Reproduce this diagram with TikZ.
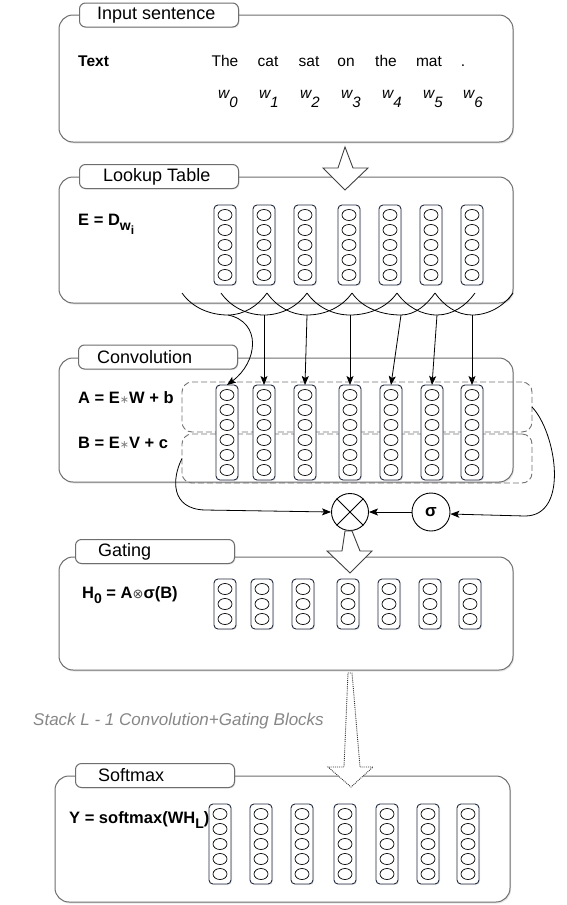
\documentclass[tikz,border=0pt]{standalone}
\usepackage{fontspec}
\setmainfont{Liberation Sans}
\newfontfamily\symf{DejaVu Sans}
\usetikzlibrary{arrows.meta,shadows}
\definecolor{frame}{RGB}{110,110,110}
\definecolor{stackc}{RGB}{35,42,65}
\definecolor{dashc}{RGB}{115,115,115}
\definecolor{notec}{RGB}{135,135,135}

% a column of n units: #1 name, #2 x centre, #3 top y, #4 number of units
\newcommand\vecstack[4]{%
  \pgfmathsetmacro\stackh{15*#4+5}%
  \node[stackbox, minimum height=\stackh pt, anchor=north] (#1) at (#2,#3) {};
  \foreach \k in {1,...,#4}
    \draw[unit] (#2,#3+15*\k-5) ellipse [x radius=7pt, y radius=5.5pt];
}

\begin{document}
\begin{tikzpicture}[x=1pt,y=-1pt,
  panel/.style={draw=frame, line width=1pt, rounded corners=14pt, fill=white,
    drop shadow={opacity=0.2, shadow xshift=1pt, shadow yshift=-1.5pt},
    inner sep=0pt, outer sep=0pt},
  tab/.style={draw=frame, line width=1pt, rounded corners=6pt, fill=white,
    minimum width=159pt, inner xsep=0pt, inner ysep=0pt, minimum height=24pt,
    font=\fontsize{18}{20}\selectfont,
    drop shadow={opacity=0.18, shadow xshift=1pt, shadow yshift=-1pt}},
  tabtext/.style={font=\fontsize{18}{20}\selectfont, inner sep=0pt, anchor=west},
  stackbox/.style={draw=stackc, line width=0.9pt, rounded corners=4pt, fill=white,
    minimum width=22pt, inner sep=0pt, outer sep=0pt,
    drop shadow={opacity=0.18, shadow xshift=1pt, shadow yshift=-1pt}},
  unit/.style={draw=black, line width=0.7pt},
  dbox/.style={draw=dashc, line width=0.9pt, dash pattern=on 6pt off 3pt,
    rounded corners=10pt, inner sep=0pt, outer sep=0pt},
  eq/.style={font=\bfseries\fontsize{16.5}{18}\selectfont, inner sep=0pt},
  word/.style={font=\fontsize{15.5}{17}\selectfont, inner sep=0pt},
  arr/.style={draw=black, line width=0.8pt, -{Stealth[length=9pt,width=7pt,inset=2pt]}},
  fan/.style={draw=black, line width=0.8pt},
  blockarrow/.style={draw=black!75, line width=0.9pt, fill=white, line join=miter},
  op/.style={circle, draw=black, line width=0.9pt, fill=white, inner sep=0pt}
]
\fill[white] (0,0) rectangle (567,905);
\useasboundingbox (0,0) rectangle (567,905);

% ---------- panels ----------
\node[panel, minimum width=454pt, minimum height=127pt, anchor=north west] (inpanel) at (59,15) {};
\node[panel, minimum width=454pt, minimum height=126pt, anchor=north west] (lkpanel) at (59,177) {};
\node[panel, minimum width=454pt, minimum height=124pt, anchor=north west] (cvpanel) at (59,358) {};
\node[panel, minimum width=454pt, minimum height=113pt, anchor=north west] (gtpanel) at (59,557) {};
\node[panel, minimum width=455pt, minimum height=126pt, anchor=north west] (smpanel) at (55,776) {};

% title tabs with their captions
\node[tab, anchor=west] (intab) at (79,15) {};
\node[tabtext] (intitle) at (97,15) {Input sentence};
\node[tab, anchor=west] (lktab) at (79,176.5) {};
\node[tabtext] (lktitle) at (103,176.5) {Lookup Table};
\node[tab, anchor=west] (cvtab) at (78,357) {};
\node[tabtext] (cvtitle) at (97,357) {Convolution};
\node[tab, anchor=west] (gttab) at (75,551.5) {};
\node[tabtext] (gttitle) at (98,551.5) {Gating};
\node[tab, anchor=west] (smtab) at (75,775.5) {};
\node[tabtext] (smtitle) at (98,775.5) {Softmax};

% ---------- input sentence ----------
\node[word, font=\bfseries\fontsize{15.5}{17}\selectfont, anchor=base west] (txtlabel) at (78,66) {Text};
\node[word, anchor=base] (tok0) at (225,66) {The};
\node[word, anchor=base] (tok1) at (268,66) {cat};
\node[word, anchor=base] (tok2) at (309,66) {sat};
\node[word, anchor=base] (tok3) at (346,66) {on};
\node[word, anchor=base] (tok4) at (386,66) {the};
\node[word, anchor=base] (tok5) at (429,66) {mat};
\node[word, anchor=base] (tok6) at (463,66) {.};
\foreach \x [count=\i from 0] in {218,259,300,341,382,423,463}
  \node[word, anchor=base west] (w\i) at (\x,98)
    {\itshape w\raisebox{-9pt}{\fontsize{15}{15}\selectfont\itshape \i}};

% ---------- lookup table ----------
\node[eq, anchor=base west] (eqE) at (78,225)
  {E = D\raisebox{-5pt}{\fontsize{14}{14}\selectfont w\raisebox{-4pt}{\fontsize{12}{12}\selectfont i}}};
\foreach \x [count=\i] in {225,264,305,349,390,431,472}
  {\vecstack{lk\i}{\x}{205}{5}}

% ---------- convolution ----------
\node[dbox, minimum width=350pt, minimum height=50pt, anchor=north west] (abox) at (182,382) {};
\node[dbox, minimum width=350pt, minimum height=49pt, anchor=north west] (bbox) at (182,434) {};
\node[eq, anchor=base west] (eqA) at (78,403)
  {A = E{\symf\mdseries\fontsize{11}{11}\selectfont\color{gray}∗}W + b};
\node[eq, anchor=base west] (eqB) at (78,448)
  {B = E{\symf\mdseries\fontsize{11}{11}\selectfont\color{gray}∗}V + c};
\foreach \x [count=\i] in {227,264,305,350,391,432,472}
  {\vecstack{cv\i}{\x}{385}{6}}

% receptive-field fans below the lookup table
\foreach \x [count=\i from 0] in {182,221,267,307,352,397,435,475,513}
  \coordinate (v\i) at (\x,293);
\foreach \x [count=\i] in {228,264,307,350,401,437,472}
  \coordinate (ab\i) at (\x,315);
\foreach \i in {1,...,7} {
  \pgfmathtruncatemacro\im{\i-1}
  \pgfmathtruncatemacro\ip{\i+1}
  \draw[fan] (v\im) to[out=-55,in=180,looseness=0.9] (ab\i) to[out=0,in=-125,looseness=0.9] (v\ip);
}
\draw[arr] (ab1) .. controls (262,322) and (258,362) .. (cv1.north);
\foreach \i in {2,...,7}
  \draw[arr] (ab\i) -- (cv\i.north);

% ---------- gating operators ----------
\node[op, minimum size=37pt] (ot) at (350,512) {};
\draw[line width=0.9pt] (ot.45) -- (ot.225) (ot.135) -- (ot.-45);
\node[op, minimum size=38pt, font=\bfseries\fontsize{17}{17}\selectfont] (sg) at (431,512) {σ};
\draw[arr] (sg.west) -- (ot.east);
\draw[arr] (abox.east) .. controls (556,432) and (570,516) .. (525,516) -- (sg.-6);
\draw[arr] (bbox.west) .. controls (172,478) and (170,509) .. (205,510) -- (ot.west);

% block arrows between stages
\draw[blockarrow] (345,147) -- (353,168) -- (368,168) -- (345,190) -- (323,168) -- (338,168) -- cycle;
\draw[blockarrow, shift={(ot.south)}] (-5,0) -- (2,0) -- (10,20) -- (22,20) -- (0,42) -- (-23,20) -- (-8,20) -- cycle;

% ---------- gating ----------
\node[eq, anchor=base west] (eqH) at (82,598)
  {H\raisebox{-5pt}{\fontsize{14}{14}\selectfont 0} = A{\symf\mdseries\fontsize{13}{13}\selectfont\color{black!70}⊗}σ(B)};
\foreach \x [count=\i] in {225,262,303,348,389,430,470}
  {\vecstack{gt\i}{\x}{579}{3}}

% ---------- stacked blocks ----------
\node[font=\itshape\fontsize{17}{19}\selectfont, text=notec, inner sep=0pt, anchor=base west] (stacknote) at (33,725)
  {Stack L - 1 Convolution+Gating Blocks};
\draw[blockarrow, densely dotted, draw=black!80] (348,673) -- (352,673) -- (360,767) -- (373,767) -- (351,787) -- (328,767) -- (344,767) -- cycle;

% ---------- softmax ----------
\node[eq, anchor=base west] (eqY) at (69,823)
  {Y = softmax(WH\raisebox{-5pt}{\fontsize{14}{14}\selectfont L})};
\foreach \x [count=\i] in {220,261,302,345,387,428,468}
  {\vecstack{sm\i}{\x}{804}{5}}
\end{tikzpicture}
\end{document}
